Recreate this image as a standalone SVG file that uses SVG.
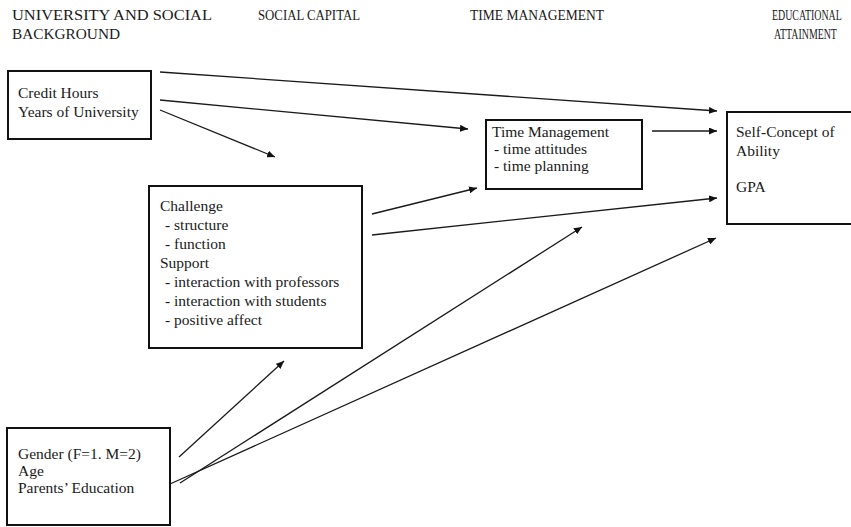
<svg xmlns="http://www.w3.org/2000/svg" width="851" height="527" viewBox="0 0 851 527">
<style>
text{font-family:"Liberation Serif","Times New Roman",serif;fill:#1a1a1a;font-size:15.5px}
.hd{font-size:15px}
.box{fill:#fff;stroke:#111;stroke-width:2}
.ln{stroke:#1a1a1a;stroke-width:1.3;fill:none;marker-end:url(#ah)}
</style>
<defs>
<marker id="ah" markerUnits="userSpaceOnUse" markerWidth="9" markerHeight="7" refX="8" refY="3.5" orient="auto">
<path d="M0,0 L8,3.5 L0,7 Z" fill="#111"/>
</marker>
</defs>
<rect width="851" height="527" fill="#fff"/>
<g id="headers">
<text class="hd" x="12" y="20" textLength="200" lengthAdjust="spacingAndGlyphs">UNIVERSITY AND SOCIAL</text>
<text class="hd" x="12" y="39" textLength="108" lengthAdjust="spacingAndGlyphs">BACKGROUND</text>
<text class="hd" x="258" y="20" textLength="102" lengthAdjust="spacingAndGlyphs">SOCIAL CAPITAL</text>
<text class="hd" x="470" y="20" textLength="134" lengthAdjust="spacingAndGlyphs">TIME MANAGEMENT</text>
<text class="hd" transform="translate(772,20) scale(0.66,1)">EDUCATIONAL</text>
<text class="hd" transform="translate(774,39) scale(0.66,1)">ATTAINMENT</text>
</g>
<g id="connectors">
<path class="ln" d="M160,72 L717,111"/>
<path class="ln" d="M160,100 L468,129"/>
<path class="ln" d="M160,110 L275,157"/>
<path class="ln" d="M652,131 L717,131"/>
<path class="ln" d="M372,214 L477,188"/>
<path class="ln" d="M372,235 L717,198"/>
<path class="ln" d="M179,457 L284,361"/>
<path class="ln" d="M180,483 L582,227"/>
<path class="ln" d="M170,484 L716,238"/>
</g>
<g id="university">
<rect class="box" x="8" y="71" width="143" height="68"/>
<text x="18" y="98">Credit Hours</text>
<text x="18" y="117">Years of University</text>
</g>
<g id="social-capital">
<rect class="box" x="149" y="186" width="213" height="162"/>
<text x="160" y="211">Challenge</text>
<text x="165" y="230"> - structure</text>
<text x="165" y="249"> - function</text>
<text x="160" y="268">Support</text>
<text x="165" y="287"> - interaction with professors</text>
<text x="165" y="306"> - interaction with students</text>
<text x="165" y="325"> - positive affect</text>
</g>
<g id="time-management">
<rect class="box" x="486" y="120" width="156" height="69"/>
<text x="492" y="137">Time Management</text>
<text x="494" y="154"> - time attitudes</text>
<text x="494" y="171"> - time planning</text>
</g>
<g id="attainment">
<rect class="box" x="727" y="112" width="140" height="112"/>
<text x="736" y="137">Self-Concept of</text>
<text x="736" y="156">Ability</text>
<text x="736" y="192">GPA</text>
</g>
<g id="background">
<rect class="box" x="7" y="428" width="163" height="97"/>
<text x="18" y="459">Gender (F=1. M=2)</text>
<text x="18" y="476">Age</text>
<text x="18" y="493">Parents’ Education</text>
</g>
</svg>
